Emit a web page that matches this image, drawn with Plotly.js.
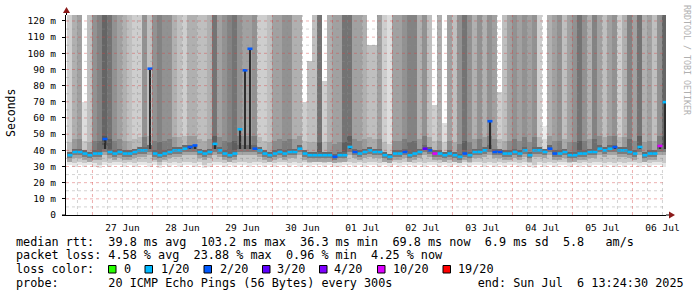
<!DOCTYPE html>
<html>
<head>
<meta charset="utf-8">
<script src="https://cdn.plot.ly/plotly-3.0.1.min.js"></script>
<style>
  html, body { margin: 0; padding: 0; background: #ffffff; }
  #chart { width: 697px; height: 297px; }
</style>
</head>
<body>
<div id="chart"></div>
<script>
// ---------------- DATA ----------------
// 2-hour consolidated steps, first step starting 2025-06-26 14:00
const stepStart = '2025-06-26 14:00:00';
const stepHours = 2;

// median round-trip time per step (ms)
const medianRtt = [
  37, 39, 39, 38, 37, 38, 38, 47, 39, 38,
  39, 38, 38, 39, 40, 40, 90.5, 38, 37, 38,
  39, 40, 40, 41, 42, 43, 39, 38, 39, 44,
  40, 38, 37, 38, 53, 89.5, 102.8, 41, 40, 38,
  37, 38, 39, 38, 39, 39, 41, 38, 37, 37,
  37, 37, 37, 36, 37, 37, 42, 39, 38, 39,
  40, 39, 39, 37, 36, 38, 38, 39, 37, 38,
  39, 41, 40, 38, 38, 37, 38, 37, 36, 38,
  37, 39, 39, 40, 58, 39, 39, 38, 38, 39,
  38, 40, 37, 40, 40, 39, 41, 38, 38, 39,
  37, 37, 38, 38, 39, 39, 41, 40, 41, 42,
  40, 40, 39, 38, 42, 37, 38, 38, 42.7, 69.8
];

// lost pings per step (out of 20)
const lossCount = [
  1, 1, 1, 1, 1, 1, 1, 2, 1, 1,
  1, 1, 1, 1, 1, 1, 2, 1, 1, 1,
  1, 1, 1, 1, 2, 2, 1, 1, 1, 1,
  1, 1, 1, 1, 1, 2, 2, 2, 1, 1,
  1, 1, 1, 1, 1, 1, 1, 1, 1, 1,
  1, 1, 1, 2, 1, 1, 1, 2, 1, 1,
  1, 1, 1, 1, 1, 1, 1, 2, 1, 1,
  1, 3, 2, 10, 1, 1, 1, 1, 1, 2,
  1, 1, 1, 1, 2, 2, 2, 1, 1, 1,
  1, 1, 1, 1, 1, 1, 2, 2, 1, 1,
  1, 1, 1, 1, 1, 1, 1, 1, 1, 2,
  1, 1, 1, 1, 1, 1, 1, 1, 10, 1
];

// fastest ping per step (ms) - bottom of the smoke
const minRtt = [
  31, 30, 31, 30, 31, 30, 29, 31, 30, 31,
  31, 30, 31, 30, 31, 31, 30, 31, 29, 31,
  30, 31, 30, 31, 31, 30, 31, 29, 30, 31,
  31, 30, 31, 30, 31, 31, 30, 31, 31, 30,
  31, 30, 31, 31, 30, 31, 30, 31, 30, 31,
  31, 30, 31, 30, 30, 31, 31, 30, 31, 30,
  31, 31, 30, 31, 30, 31, 30, 31, 31, 30,
  31, 30, 31, 31, 30, 31, 30, 31, 30, 31,
  30, 31, 31, 30, 31, 30, 31, 30, 31, 31,
  30, 31, 30, 29, 31, 30, 31, 30, 31, 31,
  30, 31, 30, 31, 30, 31, 31, 30, 31, 30,
  31, 30, 31, 31, 30, 31, 30, 31, 31, 30
];

// slowest ping per step (ms) - top of the smoke (124 = beyond the scale)
const maxRtt = [
  124, 124, 124, 70, 124, 124, 124, 124, 124, 124,
  124, 124, 124, 124, 124, 124, 124, 124, 124, 124,
  124, 124, 124, 124, 124, 124, 124, 124, 124, 124,
  124, 124, 124, 124, 124, 124, 124, 124, 124, 124,
  124, 124, 124, 124, 124, 124, 124, 70, 95, 124,
  124, 83, 124, 124, 124, 124, 124, 124, 124, 124,
  105, 105, 124, 124, 124, 124, 124, 124, 124, 124,
  124, 124, 124, 68, 124, 57, 124, 124, 124, 124,
  124, 124, 124, 124, 124, 124, 76, 124, 124, 124,
  124, 124, 124, 124, 124, 55, 124, 124, 124, 124,
  124, 124, 124, 124, 124, 124, 124, 124, 124, 124,
  124, 124, 124, 124, 124, 124, 124, 124, 124, 124
];

// number of slow pings (of the upper half) per step, 0..10 - smoke density above the median
const slowPings = [
  2, 4, 5, 1, 3, 6, 7, 9, 8, 6,
  5, 4, 3, 2, 2, 6, 3, 6, 7, 6,
  6, 4, 3, 2, 4, 4, 3, 3, 4, 8,
  5, 6, 7, 8, 6, 5, 5, 6, 2, 2,
  3, 5, 5, 6, 6, 4, 4, 2, 3, 3,
  8, 2, 4, 5, 5, 8, 8, 5, 5, 4,
  3, 3, 5, 2, 1, 5, 5, 6, 7, 7,
  4, 6, 3, 2, 4, 1, 5, 3, 6, 8,
  6, 4, 6, 4, 6, 5, 2, 3, 5, 6,
  5, 6, 5, 6, 2, 0, 4, 5, 6, 3,
  5, 6, 8, 6, 4, 7, 5, 3, 5, 6,
  2, 4, 7, 5, 8, 4, 5, 3, 6, 9
];

const xTickLabels = ['27 Jun','28 Jun','29 Jun','30 Jun','01 Jul','02 Jul','03 Jul','04 Jul','05 Jul','06 Jul'];
const xTickDays   = ['2025-06-27','2025-06-28','2025-06-29','2025-06-30','2025-07-01','2025-07-02','2025-07-03','2025-07-04','2025-07-05','2025-07-06'];
const yTickValues = [0,10,20,30,40,50,60,70,80,90,100,110,120];
const yTickLabels = ['0','10 m','20 m','30 m','40 m','50 m','60 m','70 m','80 m','90 m','100 m','110 m','120 m'];

const lossLevels = [0, 1, 2, 3, 4, 10, 19];
const lossLabels = ['0', '1/20', '2/20', '3/20', '4/20', '10/20', '19/20'];
const lossColors = ['#26ff00', '#00b8ff', '#0059ff', '#5e00ff', '#7e00ff', '#dd00ff', '#ff0000'];

const rangeStart = '2025-06-26 13:24:30';
const rangeEnd   = '2025-07-06 13:24:30';

const statsLines = [
  'median rtt:  39.8 ms avg  103.2 ms max  36.3 ms min  69.8 ms now  6.9 ms sd  5.8   am/s',
  'packet loss: 4.58 % avg  23.88 % max  0.96 % min  4.25 % now',
  'loss color:',
  'probe:       20 ICMP Echo Pings (56 Bytes) every 300s            end: Sun Jul  6 13:24:30 2025'
];

// ---------------- helpers ----------------
function fmt(ms) {
  return new Date(ms).toISOString().slice(0, 19).replace('T', ' ');
}
function parseDate(s) {
  return Date.parse(s.replace(' ', 'T') + 'Z');
}
function grey(v) {
  v = Math.max(0, Math.min(255, Math.round(v)));
  return 'rgb(' + v + ',' + v + ',' + v + ')';
}
function densityGrey(n) { return grey(236 - 15 * n); }

const N = medianRtt.length;
const stepMs = stepHours * 3600000;
const t0 = parseDate(stepStart);
const xs = [], xStart = [], xEnd = [];
for (let i = 0; i < N; i++) {
  xs.push(fmt(t0 + i * stepMs + stepMs / 2));
  xStart.push(fmt(t0 + i * stepMs));
  xEnd.push(fmt(t0 + (i + 1) * stepMs));
}

// ---------------- smoke layers ----------------
const layers = [];
function addLayer(baseArr, topArr, colArr, w) {
  const h = topArr.map((t, i) => Math.max(0, t - baseArr[i]));
  layers.push({
    type: 'bar', x: xs, base: baseArr, y: h, width: w || stepMs,
    marker: { color: colArr, line: { width: 0 } },
    hoverinfo: 'skip', showlegend: false
  });
}
const mlow = medianRtt.map(m => Math.min(m, 41));
const l1b = [], l1t = [], l2t = [], l3t = [], l4t = [], l5t = [], l6t = [], l7t = [], spikeTop = [];
const c6 = [], c7 = [];
for (let i = 0; i < N; i++) {
  const lo = minRtt[i];
  const ml = mlow[i];
  l1b.push(lo);
  l1t.push(Math.min(lo + 2, ml));
  l2t.push(Math.max(lo + 2, ml - 4));
  l3t.push(Math.max(lo + 2, ml - 2));
  l4t.push(ml);
  const u0 = ml + 2;
  l5t.push(u0);
  l6t.push(Math.min(u0 + 6, maxRtt[i]));
  c6.push(densityGrey(Math.min(10, slowPings[i] + 1.5)));
  l7t.push(maxRtt[i]);
  c7.push(densityGrey(slowPings[i]));
  spikeTop.push(Math.max(ml, medianRtt[i]));
}
addLayer(l1b, l1t, Array(N).fill('#e6e6e6'));
addLayer(l1t, l2t, Array(N).fill('#c8c8c8'));
addLayer(l2t, l3t, Array(N).fill('#a4a4a4'));
addLayer(l3t, l4t, Array(N).fill('#7c7c7c'));
addLayer(l4t, l5t, Array(N).fill('#6a6a6a'));
addLayer(l5t, l6t, c6);
addLayer(l6t, l7t, c7);
// narrow dark core where the median itself jumps up
addLayer(l4t, spikeTop, Array(N).fill('#2e2e2e'), stepMs * 0.5);

// ---------------- median line, coloured by loss (one dash per step) ----------------
const medTraces = lossLevels.map((lv, k) => {
  const x = [], y = [];
  for (let i = 0; i < N; i++) {
    if (lossCount[i] === lv) {
      x.push(xStart[i], xEnd[i], xEnd[i]); y.push(medianRtt[i], medianRtt[i], null);
    }
  }
  return {
    type: 'scatter', mode: 'lines', x: x, y: y, connectgaps: false,
    line: { color: lossColors[k], width: 2.6 },
    hoverinfo: 'skip', showlegend: false
  };
});

// ---------------- layout geometry ----------------
const W = 697, H = 297;
const L = 66, R = 31, T = 15, B = 82;
const PW = W - L - R, PH = H - T - B;
const px = p => (p - L) / PW;
const py = p => (H - B - p) / PH;

const shapes = [];
const mgrid = 'rgba(215,70,70,0.42)';
const grid = 'rgba(140,140,140,0.38)';
// horizontal grid
for (let v = 5; v <= 120; v += 5) {
  shapes.push({ type: 'line', layer: 'above', xref: 'paper', yref: 'y', x0: 0, x1: 1, y0: v, y1: v,
    line: { color: v % 10 === 0 ? mgrid : grid, width: 1, dash: 'dot' } });
}
// vertical grid: days (major) and 6 hours (minor)
const re = parseDate(rangeEnd);
for (let t = parseDate('2025-06-26 18:00:00'); t < re; t += 6 * 3600000) {
  const major = new Date(t).getUTCHours() === 0;
  shapes.push({ type: 'line', layer: 'above', xref: 'x', yref: 'paper', x0: fmt(t), x1: fmt(t), y0: 0, y1: 1,
    line: { color: major ? mgrid : grid, width: 1, dash: 'dot' } });
}
// axis extensions and arrows
shapes.push({ type: 'line', layer: 'above', xref: 'paper', yref: 'paper', x0: 1, x1: px(671), y0: 0, y1: 0,
  line: { color: '#000', width: 1 } });
shapes.push({ type: 'line', layer: 'above', xref: 'paper', yref: 'paper', x0: px(62), x1: 0, y0: 0, y1: 0,
  line: { color: '#000', width: 1 } });
shapes.push({ type: 'line', layer: 'above', xref: 'paper', yref: 'paper', x0: px(66.5), x1: px(66.5), y0: 1, y1: py(10),
  line: { color: '#000', width: 1 } });
shapes.push({ type: 'path', layer: 'above', xref: 'paper', yref: 'paper',
  path: 'M ' + px(669) + ' ' + py(211.5) + ' L ' + px(675) + ' ' + py(215) + ' L ' + px(669) + ' ' + py(218.5) + ' Z',
  fillcolor: '#8b1a1a', line: { width: 0 } });
shapes.push({ type: 'path', layer: 'above', xref: 'paper', yref: 'paper',
  path: 'M ' + px(63) + ' ' + py(13) + ' L ' + px(66.5) + ' ' + py(7) + ' L ' + px(70) + ' ' + py(13) + ' Z',
  fillcolor: '#8b1a1a', line: { width: 0 } });

// ---------------- texts ----------------
const mono = 'DejaVu Sans Mono, monospace';
const nb = s => s.replace(/ /g, '\u00a0');
const annotations = [];
const lineY = [241.5, 255, 269, 283];
statsLines.forEach((s, k) => {
  annotations.push({ xref: 'paper', yref: 'paper', x: px(15), y: py(lineY[k]), xanchor: 'left', yanchor: 'middle',
    text: nb(s), showarrow: false, font: { family: mono, size: 11.8, color: '#000' }, borderpad: 0 });
});
// loss colour legend
const boxX  = [108.5, 145, 204, 262.5, 319.5, 377.5, 443];
const textX = [122.5, 159.5, 218.5, 276, 333, 391.5, 457];
lossLabels.forEach((lab, k) => {
  shapes.push({ type: 'rect', layer: 'above', xref: 'paper', yref: 'paper',
    x0: px(boxX[k]), x1: px(boxX[k] + 7.5), y0: py(265.5), y1: py(273),
    fillcolor: lossColors[k], line: { color: '#000', width: 1 } });
  annotations.push({ xref: 'paper', yref: 'paper', x: px(textX[k]), y: py(269), xanchor: 'left', yanchor: 'middle',
    text: nb(lab), showarrow: false, font: { family: mono, size: 11.8, color: '#000' }, borderpad: 0 });
});
// y-axis title
annotations.push({ xref: 'paper', yref: 'paper', x: px(11), y: py(113), xanchor: 'center', yanchor: 'middle',
  text: 'Seconds', textangle: -90, showarrow: false, font: { family: mono, size: 11.5, color: '#000' } });
// watermark
annotations.push({ xref: 'paper', yref: 'paper', x: px(687), y: py(60), xanchor: 'center', yanchor: 'middle',
  text: nb('RRDTOOL / TOBI OETIKER'), textangle: 90, showarrow: false, font: { family: mono, size: 8.3, color: '#b0b0b0' } });

const layout = {
  width: W, height: H,
  margin: { l: L, r: R, t: T, b: B, pad: 0 },
  paper_bgcolor: '#ffffff', plot_bgcolor: '#ffffff',
  barmode: 'overlay', bargap: 0,
  showlegend: false,
  xaxis: {
    type: 'date', range: [rangeStart, rangeEnd], fixedrange: true,
    showgrid: false, zeroline: false, showline: true, linecolor: '#000', linewidth: 1,
    tickvals: xTickDays.map(d => d + ' 12:00:00'), ticktext: xTickLabels,
    ticks: '', tickfont: { family: mono, size: 9.5, color: '#000' }, ticklabelstandoff: 4
  },
  yaxis: {
    range: [0, 123.7], fixedrange: true,
    showgrid: false, zeroline: false, showline: true, linecolor: '#000', linewidth: 1,
    tickvals: yTickValues, ticktext: yTickLabels,
    ticks: 'outside', ticklen: 3, tickcolor: '#000',
    tickfont: { family: mono, size: 9.5, color: '#000' }, ticklabelstandoff: 4
  },
  shapes: shapes,
  annotations: annotations
};

Plotly.newPlot('chart', layers.concat(medTraces), layout, { staticPlot: true, displayModeBar: false });
</script>
</body>
</html>
